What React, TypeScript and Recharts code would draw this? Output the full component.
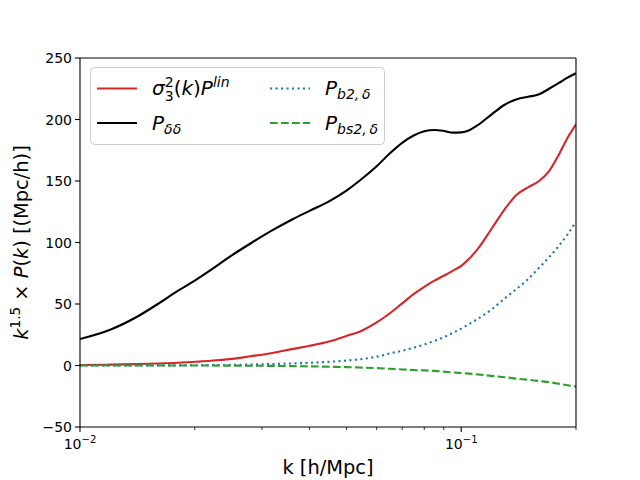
import { LineChart, Line, XAxis, YAxis, Legend, ReferenceLine } from 'recharts'

const FONT = 'DejaVu Sans'

const COLORS = {
  red: '#d62728',
  black: '#000000',
  blue: '#1f77b4',
  green: '#2ca02c',
}

// k [h/Mpc]
const K = [
  0.01, 0.012, 0.014, 0.016, 0.018, 0.02, 0.022, 0.025, 0.028, 0.032, 0.036, 0.04, 0.045, 0.05,
  0.055, 0.06, 0.065, 0.07, 0.075, 0.08, 0.085, 0.09, 0.095, 0.1, 0.105, 0.11, 0.12, 0.13, 0.14,
  0.15, 0.16, 0.17, 0.18, 0.19, 0.2,
]

// sigma_3^2(k) P^lin
const SIGMA3_PLIN = [
  0.4, 0.7, 1.1, 1.6, 2.2, 3, 3.8, 5.4, 7.5, 10.2, 13.3, 16, 19.5, 24, 28.5, 35, 42.5, 50.5, 58, 64, 69,
  73, 77, 81, 87, 94, 111, 127, 139, 145, 150, 158, 171, 185, 196,
]

// P_dd
const P_DD = [
  21.5, 29, 39, 50, 60.4, 69, 77.5, 89.5, 99.2, 110, 118.7, 125.7, 133.5, 142.2, 152, 162, 172.5, 181,
  187, 190.5, 191.5, 190.7, 189.3, 189.5, 191.3, 195, 204, 212, 216.5, 218.5, 220.5, 225, 229.5, 234,
  237.6,
]

// P_b2,d
const P_B2 = [
  0, 0, 0.05, 0.1, 0.15, 0.2, 0.3, 0.5, 0.8, 1.2, 1.7, 2.2, 3.0, 4.0, 5.3, 7.2, 9.8, 12, 14.5, 17, 20,
  23, 26.5, 30, 33.8, 37.5, 45.5, 54.5, 62.5, 70.5, 79.5, 88, 97, 106.5, 117,
]

// P_bs2,d
const P_BS2 = [
  0, 0, 0, 0, 0, 0, -0.05, -0.1, -0.2, -0.3, -0.5, -0.7, -1, -1.3, -1.7, -2.1, -2.7, -3.2, -3.7, -4.0,
  -4.4, -5.0, -5.6, -6.1, -6.6, -7.2, -8.4, -9.5, -10.7, -11.6, -12.6, -13.5, -14.8, -16, -17.2,
]

const X_DOMAIN = [0.01, 0.2]
const Y_DOMAIN = [-50, 250]
const X_TICKS = [0.01, 0.02, 0.03, 0.04, 0.05, 0.06, 0.07, 0.08, 0.09, 0.1, 0.2]
const X_MAJOR: Record<string, string> = { '0.01': '\u22122', '0.1': '\u22121' }
const Y_TICKS = [-50, 0, 50, 100, 150, 200, 250]

const rows = K.map((k, i) => ({
  k,
  lin: SIGMA3_PLIN[i],
  dd: P_DD[i],
  b2: P_B2[i],
  bs2: P_BS2[i],
}))

function XTick(props: any) {
  const { x, y, payload } = props
  const exp = X_MAJOR[String(payload.value)]
  return (
    <g>
      <line x1={x} x2={x} y1={y} y2={y + (exp ? 5 : 3)} stroke="#000" strokeWidth={exp ? 1.1 : 0.8} />
      {exp && (
        <text x={x} y={y + 22} textAnchor="middle" fontSize={14} fontFamily={FONT} fill="#000">
          10
          <tspan dy={-6} fontSize={10}>
            {exp}
          </tspan>
        </text>
      )}
    </g>
  )
}

function YTick(props: any) {
  const { x, y, payload } = props
  const label = payload.value < 0 ? `\u2212${Math.abs(payload.value)}` : String(payload.value)
  return (
    <g>
      <line x1={x - 5} x2={x} y1={y} y2={y} stroke="#000" strokeWidth={1.1} />
      <text x={x - 8} y={y} dy="0.36em" textAnchor="end" fontSize={14} fontFamily={FONT} fill="#000">
        {label}
      </text>
    </g>
  )
}

const renderXLabel = ({ viewBox }: any) => (
  <text
    x={viewBox.x + viewBox.width / 2}
    y={viewBox.y + 47}
    textAnchor="middle"
    fontSize={19.4}
    fontFamily={FONT}
    fill="#000"
  >
    k [h/Mpc]
  </text>
)

const renderYLabel = ({ viewBox }: any) => {
  const cx = 28
  const cy = viewBox.y + viewBox.height / 2
  return (
    <text
      x={cx}
      y={cy}
      transform={`rotate(-90, ${cx}, ${cy})`}
      textAnchor="middle"
      fontSize={19.4}
      fontFamily={FONT}
      fill="#000"
    >
      <tspan fontStyle="italic">k</tspan>
      <tspan dy={-8} fontSize={13.6}>1.5</tspan>
      <tspan dy={8}>{'\u00a0\u00d7\u00a0'}</tspan>
      <tspan fontStyle="italic">P</tspan>(<tspan fontStyle="italic">k</tspan>) [(Mpc/h)]
    </text>
  )
}

function LegendBox() {
  const fs = 20
  const sub = 14
  const rowY = [21.5, 56]
  return (
    <svg width={296} height={79} style={{ display: 'block' }}>
      <rect x={0.5} y={0.5} width={294} height={77} rx={4} fill="#fff" fillOpacity={0.8} stroke="#cccccc" />
      <line x1={7} x2={47} y1={rowY[0]} y2={rowY[0]} stroke={COLORS.red} strokeWidth={2.1} />
      <line x1={7} x2={47} y1={rowY[1]} y2={rowY[1]} stroke={COLORS.black} strokeWidth={2.1} />
      <line x1={180} x2={220} y1={rowY[0]} y2={rowY[0]} stroke={COLORS.blue} strokeWidth={2.1} strokeDasharray="2.1 3.4" />
      <line x1={180} x2={220} y1={rowY[1]} y2={rowY[1]} stroke={COLORS.green} strokeWidth={2.1} strokeDasharray="7.7 3.3" />
      <text x={62} y={rowY[0] + 6.5} fontSize={fs} fontFamily={FONT} fill="#000">
        <tspan fontStyle="italic">{'\u03c3'}</tspan>
        <tspan dy={-8} fontSize={sub}>2</tspan>
        <tspan dx={-8.9} dy={14} fontSize={sub}>3</tspan>
        <tspan dy={-6}>(</tspan>
        <tspan fontStyle="italic">k</tspan>
        <tspan>)</tspan>
        <tspan fontStyle="italic">P</tspan>
        <tspan dy={-8} fontSize={sub} fontStyle="italic">lin</tspan>
      </text>
      <text x={62} y={rowY[1] + 6.5} fontSize={fs} fontFamily={FONT} fill="#000">
        <tspan fontStyle="italic">P</tspan>
        <tspan dy={4} fontSize={sub} fontStyle="italic">{'\u03b4\u03b4'}</tspan>
      </text>
      <text x={235} y={rowY[0] + 6.5} fontSize={fs} fontFamily={FONT} fill="#000">
        <tspan fontStyle="italic">P</tspan>
        <tspan dy={4} fontSize={sub} fontStyle="italic">{'b2,\u2009\u03b4'}</tspan>
      </text>
      <text x={235} y={rowY[1] + 6.5} fontSize={fs} fontFamily={FONT} fill="#000">
        <tspan fontStyle="italic">P</tspan>
        <tspan dy={4} fontSize={sub} fontStyle="italic">{'bs2,\u2009\u03b4'}</tspan>
      </text>
    </svg>
  )
}

export default function App() {
  return (
    <div style={{ position: 'absolute', left: 0, top: 0, width: 640, height: 480, background: '#fff' }}>
      <LineChart width={640} height={480} data={rows} margin={{ top: 58, right: 64, left: 0, bottom: 0 }}>
        <XAxis
          dataKey="k"
          type="number"
          scale="log"
          domain={X_DOMAIN}
          allowDataOverflow
          ticks={X_TICKS}
          interval={0}
          height={53}
          tickSize={0}
          tickMargin={0}
          tickLine={false}
          tick={<XTick />}
          axisLine={{ stroke: '#000', strokeWidth: 1.1 }}
          label={{ content: renderXLabel }}
        />
        <YAxis
          type="number"
          domain={Y_DOMAIN}
          allowDataOverflow
          ticks={Y_TICKS}
          interval={0}
          width={80}
          tickSize={0}
          tickMargin={0}
          tickLine={false}
          tick={<YTick />}
          axisLine={{ stroke: '#000', strokeWidth: 1.1 }}
          label={{ content: renderYLabel }}
        />
        <Legend
          layout="vertical"
          align="center"
          verticalAlign="middle"
          content={() => <LegendBox />}
          wrapperStyle={{ position: 'absolute', left: 90, top: 67, width: 296, height: 79 }}
        />
        <Line type="monotone" dataKey="lin" stroke={COLORS.red} strokeWidth={2.1} dot={false} isAnimationActive={false} />
        <Line type="monotone" dataKey="dd" stroke={COLORS.black} strokeWidth={2.1} dot={false} isAnimationActive={false} />
        <Line
          type="monotone"
          dataKey="b2"
          stroke={COLORS.blue}
          strokeWidth={2.1}
          strokeDasharray="2.1 3.4"
          dot={false}
          isAnimationActive={false}
        />
        <Line
          type="monotone"
          dataKey="bs2"
          stroke={COLORS.green}
          strokeWidth={2.1}
          strokeDasharray="7.7 3.3"
          dot={false}
          isAnimationActive={false}
        />
        <ReferenceLine y={Y_DOMAIN[1]} stroke="#000" strokeWidth={1.1} ifOverflow="visible" />
        <ReferenceLine x={X_DOMAIN[1]} stroke="#000" strokeWidth={1.1} ifOverflow="visible" />
      </LineChart>
    </div>
  )
}
